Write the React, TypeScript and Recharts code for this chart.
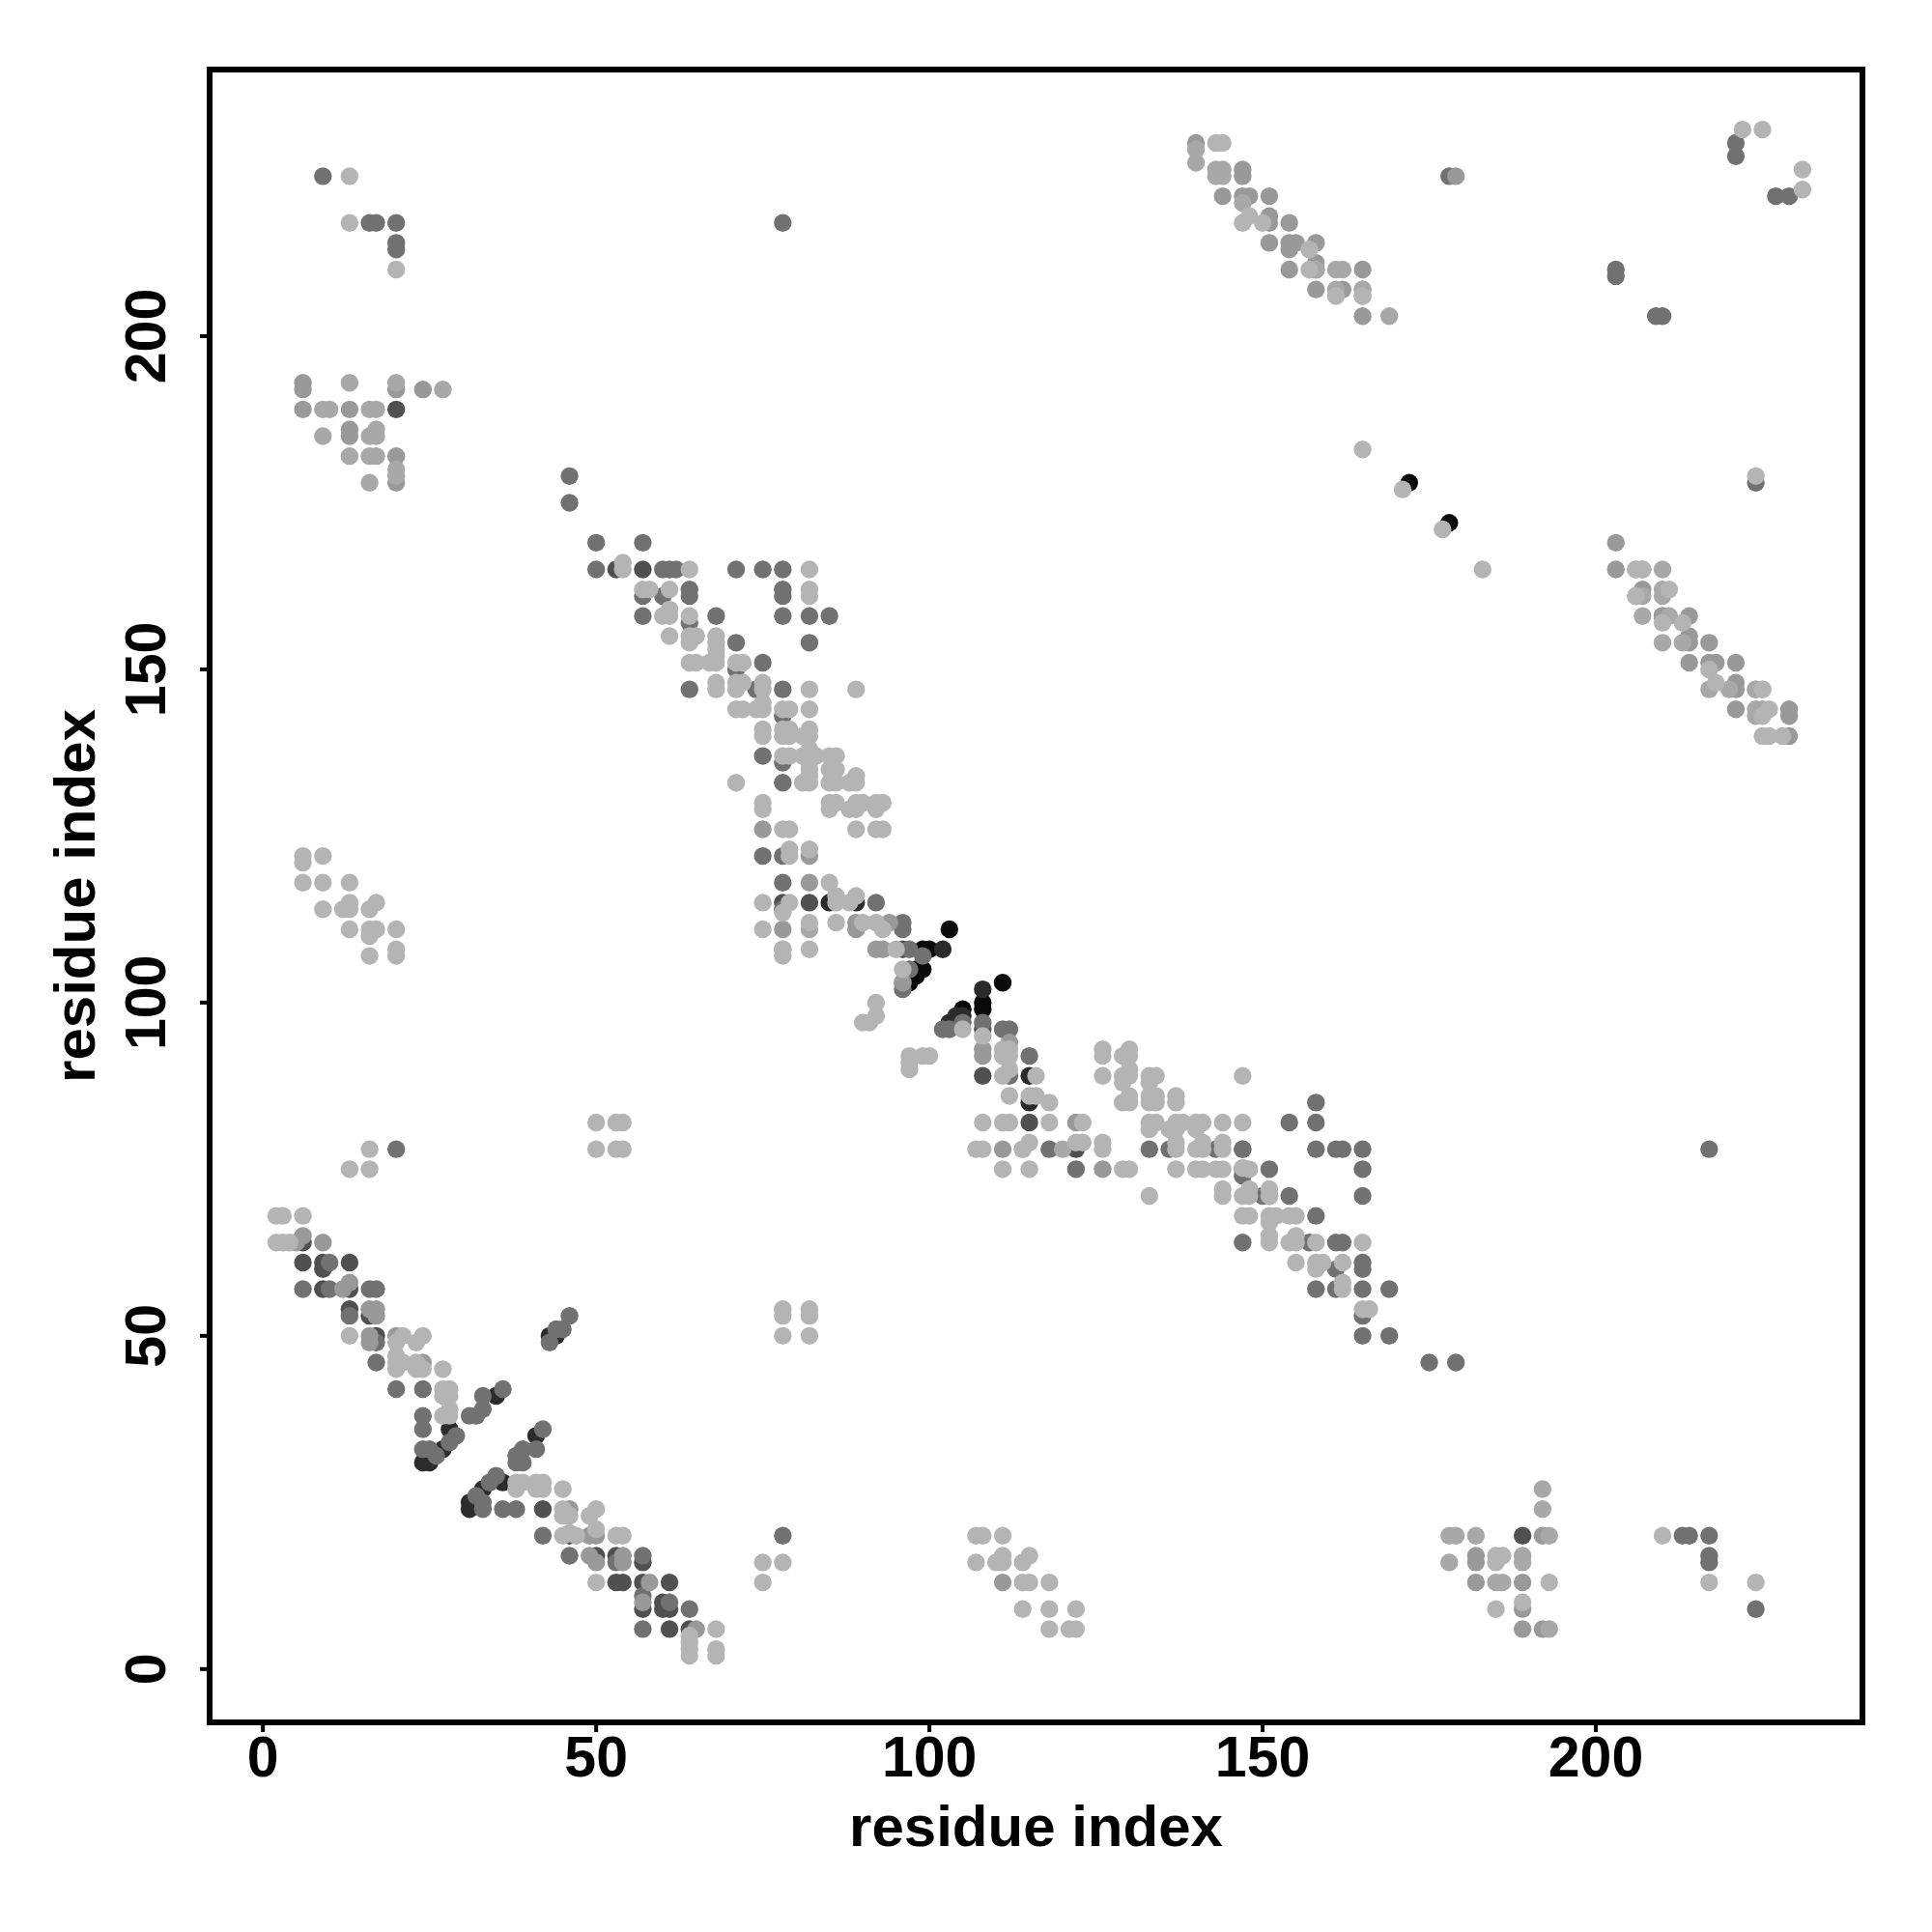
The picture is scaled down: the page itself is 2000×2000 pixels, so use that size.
import React from 'react';
import { ScatterChart, Scatter, XAxis, YAxis, ReferenceArea } from 'recharts';

type P = [number, number];

const axisTicks = [0, 50, 100, 150, 200];
const axisTitle = 'residue index';

const deepestPoints: P[] = [[103,111],[111,103],[99,108],[100,108],[98,105],[99,105],[98,104],[97,103],[108,100],[108,99],[105,99],[172,178],[178,172]];

const veryDarkPoints: P[] = [[28,36],[27,33],[24,31],[25,31],[31,24],[31,25],[33,27],[36,28],[35,41],[43,50],[44,50],[41,35],[89,115],[85,115],[102,108],[108,102],[105,98],[103,97],[115,85],[115,89],[104,98]];

const darkPoints: P[] = [[6,64],[6,61],[9,61],[9,60],[13,61],[9,57],[13,57],[13,54],[17,50],[16,53],[46,20],[42,24],[50,17],[53,17],[57,16],[54,13],[53,13],[57,13],[61,13],[57,9],[60,10],[60,9],[61,9],[61,6],[64,6],[82,115],[108,96],[115,82],[122,78],[20,189],[53,165],[57,165],[189,20],[158,210],[210,158],[108,89],[96,108],[78,115]];

const deepPoints: P[] = [[6,57],[10,61],[10,57],[13,53],[16,57],[17,57],[17,49],[17,46],[20,42],[24,42],[24,38],[24,36],[24,33],[25,33],[26,32],[29,35],[28,34],[31,38],[32,38],[33,39],[33,41],[36,42],[43,49],[44,51],[45,51],[46,53],[38,31],[39,31],[38,32],[39,33],[41,33],[42,36],[32,26],[33,24],[33,25],[34,28],[35,29],[36,24],[38,24],[42,20],[46,17],[53,16],[57,17],[57,6],[61,10],[64,9],[57,11],[78,20],
[9,224],[16,217],[17,217],[20,217],[20,214],[20,213],[78,217],[20,78],[217,78],[175,46],[179,46],[46,179],[46,175],[50,169],[57,169],[50,165],[60,165],[61,165],[62,165],[71,165],[75,165],[78,165],[57,161],[60,161],[64,162],[64,161],[78,162],[78,161],[57,158],[64,157],[68,158],[78,158],[82,158],[85,158],[71,154],[82,154],[71,150],[75,151],[64,147],[74,147],[78,147],[78,143],[75,137],[78,136],[78,133],[75,122],[78,122],[78,118],[78,114],[92,115],[96,112],[96,111],[97,108],[99,107],[97,105],[96,103],[96,102],[103,96],[102,96],[105,97],[108,97],[111,96],[112,96],[115,92],[112,89],[118,78],
[122,75],[133,78],[136,78],[143,78],[147,78],[147,74],[147,75],[150,71],[151,75],[147,64],[158,68],[158,78],[161,78],[162,78],[165,78],[165,75],[165,71],[158,82],[154,82],[158,85],[157,64],[161,64],[162,64],[165,61],[165,60],[161,60],[158,57],[161,57],[165,57],[169,57],[165,53],[165,50],[169,50],[147,78],[151,71],[154,71],[178,224],[203,210],[203,209],[209,203],[210,203],[221,229],[221,227],[227,221],[229,221],[224,178],[224,9],[213,20],[214,20],[217,20],[217,17],[217,16]];

const midPoints: P[] = [[5,64],[6,65],[9,64],[12,57],[13,58],[16,54],[17,54],[17,53],[16,50],[16,49],[20,50],[24,46],[46,24],[49,20],[50,20],[49,17],[50,16],[54,17],[54,16],[58,13],[57,10],[65,6],[75,126],[82,122],[82,118],[78,111],[89,112],[89,111],[94,112],[92,108],[93,108],[108,93],[108,92],[112,94],[96,103],[122,82],[126,75],[111,78],[111,13],
[140,229],[147,225],[147,224],[147,221],[148,221],[151,221],[144,221],[151,218],[151,217],[154,217],[151,214],[154,214],[154,213],[155,214],[158,214],[154,210],[158,211],[162,207],[165,203],[158,207],[165,210],[179,224],[207,162],[210,158],[214,158],[214,155],[214,154],[217,154],[214,151],[217,151],[218,151],[221,151],[221,148],[221,147],[221,144],[224,147],[229,143],[229,144],[229,140],[6,193],[6,192],[24,192],[20,192],[6,189],[13,186],[13,185],[13,189],[20,182],[20,178],[182,17],[182,16],[182,13],[189,13],[189,9],[192,20],[192,6],[189,6],[203,169],[203,165]];

const paleMidPoints: P[] = [[140,228],[140,226],[144,225],[144,224],[143,225],[143,224],[147,220],[165,207],[165,206],[161,210],[162,210],[165,207],[169,203],[161,207],[158,210],[210,165],[210,162],[210,161],[206,165],[207,165],[206,161],[207,161],[207,158],[211,158],[210,154],[213,154],[217,147],[220,147],[224,144],[225,144],[224,143],[224,147],[225,147],[13,193],[20,193],[27,192],[9,189],[10,189],[16,189],[17,189],[9,185],[16,185],[17,186],[17,185],[13,182],[16,182],[17,182],[16,178],[20,180],[20,179],[178,20],[179,20],[182,20],[178,16],[185,13],[186,13],[189,17],[189,16],[192,27],[192,24],[193,20],[193,6],[120,78],[114,78],[82,111],[78,108]];

const palePoints: P[] = [[2,68],[3,68],[6,68],[2,64],[3,64],[4,64],[13,50],[20,49],[21,50],[23,49],[24,50],[20,47],[20,46],[20,45],[21,46],[23,46],[23,45],[24,45],[27,45],[27,42],[28,42],[27,41],[28,41],[27,38],[28,39],[28,38],[38,27],[38,28],[39,28],[41,28],[42,28],[41,27],[42,27],[45,27],[45,24],[45,23],[46,23],[49,23],[50,24],[45,20],[46,20.4],[47,20],[50,21],[53,20],[54,20],[50,13],[68,6],[64,5],[64,4],[64,3],[64,2],[68,3],[68,2],[75,16],[75,13],[78,16],
[54,166],[54,165],[64,165],[82,165],[57,162],[58,162],[61,162],[82,162],[82,161],[60,158],[61,159],[61,158],[64,158],[61,155],[64,155],[64,154],[65,155],[68,155],[68,154],[68,153],[64,151],[65,151],[67,151],[68,151],[68,152],[71,151],[72,151],[68,148],[68,147],[71,148],[71,147],[72,148],[75,148],[75,147],[82,147],[89,147],[71,144],[72,144],[74,144],[75,145],[75,144],[78,144],[79,144],[82,144],[75,141],[75,140],[78,141],[78,140],[79,141],[79,140],[81,140],[82,141],[82,140],[78,137],[79,137],[81,137],[82,138],[82,137],[83,137],[85,137],[86,137],[82,136],[85,135],[86,135],[82,135],[71,133],[81,133],[82,134],[82,133],[85,133],[86,133],[88,133],[89,134],[89,133],[75,130],[75,129],[85,130],[85,129],[86,130],[88,129],[89,130],[89,129],[90,130],[92,130],[92,129],[93,130],[78,126],[79,126],[89,126],[92,126],[93,126],[79,123],[79,122],[82,123],[85,118],[86,116],[86,115],[89,116],[88,115],[75,115],[79,115],[78,113.5],[75,111],[82,112],[86,112],[90,112],[92,112],[93,111],[78,108],[78,107],[82,108],[95,108],[96,105],[92,100],[92,98],[91,97],[90,97],[100,92],[99,92],[97,92],[97,91],[97,90],[105,96],[108,95],[111,93],[112,93],[111,92],[112,92],[111,89],[112,90],[116,89],[112,86],[115,86],[116,86],[118,85],[108,82],[111,82],[112,82],[118,82],[107,78],[108,78],[114,78],[115,79],[111,75],[115,75],
[122,79],[123,79],[123,82],[126,93],[126,92],[126,89],[130,93],[129,92],[130,92],[129,89],[130,90],[130,89],[129,88],[129,85],[130,86],[130,85],[133,89],[134,89],[133,88],[133,86],[133,85],[134,86],[134,85],[137,86],[137,85],[133,82],[134,82],[133,81],[136,81],[137,82],[138,82],[137,81],[140,82],[141,82],[140,81],[144,82],[147,82],[147,89],[137,79],[137,78],[140,78],[141,79],[141,78],[144,79],[144,78],[126,79],[126,78],[129,75],[130,75],[137,75],[140,75],[141,75],[143,75],[144,75],[147,75.2],[148,75],[133,71],[144,72],[144,71],[147,71],[148,72],[148,71],[151,72],[151,71],[147,68],[148,68],[151,68],[152,68],[154,68],[155,68],[151,67],[151,65],[151,64],[154,64],[155,65],[155,64],[158,64],[165,64],[155,61],[158,61],[158,60],[159,61],[162,61],[162,58],[162,57],[165,54],[166,54],
[147,217],[148,218],[150,217],[157,213],[157,210],[161,206],[165,206],[143,229],[144,229],[165,183],[171,177],[177,171],[183,165],[224,179],[222,231],[225,231],[231,225],[231,222],[211,162],[210,157],[213,157],[217,150],[218,148],[225,147],[226,144],[225,143],[225,140],[226,140],[228,140],[206,165],[207,165],[206,161],
[13,224],[13,217],[20,210],[6,122],[6,121],[9,122],[6,118],[9,118],[13,118],[9,114],[12,114],[13,114],[13,115],[17,115],[16,114],[13,111],[16,111],[17,111],[20,111],[16,110],[16,107],[20,108],[20,107],[16,78],[13,75],[16,75],[50,82],[53,82],[54,82],[50,78],[53,78],[54,78],[78,54],[78,53],[82,54],[82,53],[78,50],[82,50],
[107,20],[108,20],[111,20],[107,16],[110,16],[111,16],[111,17],[114,16],[115,17],[114,13],[115,13],[114,9],[118,13],[118,9],[118,6],[121,6],[122,6],[122,9],[185,16],[186,17],[185,17],[185,9],[189,10],[193,13],[217,13],[210,20],[224,13]];

const layers: { name: string; points: P[]; fill: string }[] = [
  { name: 'deepest', points: deepestPoints, fill: '#0a0a0a' },
  { name: 'veryDark', points: veryDarkPoints, fill: '#2b2b2b' },
  { name: 'dark', points: darkPoints, fill: '#505050' },
  { name: 'deep', points: deepPoints, fill: '#717171' },
  { name: 'mid', points: midPoints, fill: '#999999' },
  { name: 'paleMid', points: paleMidPoints, fill: '#a8a8a8' },
  { name: 'pale', points: palePoints, fill: '#b4b4b4' },
];

const FONT = '"Liberation Sans", Arial, sans-serif';

const XTick = (props: any) => (
  <text x={props.x} y={props.y + 44} textAnchor="middle" fontFamily={FONT} fontWeight={700} fontSize={59} fill="#000">
    {props.payload.value}
  </text>
);

const YTick = (props: any) => (
  <text
    x={props.x - 34}
    y={props.y}
    textAnchor="middle"
    fontFamily={FONT}
    fontWeight={700}
    fontSize={59}
    fill="#000"
    transform={`rotate(-90 ${props.x - 34} ${props.y})`}
  >
    {props.payload.value}
  </text>
);

const Dot = (fill: string) => (props: any) => <circle cx={props.cx} cy={props.cy} r={9.2} fill={fill} />;

export default function App() {
  return (
    <div style={{ position: 'absolute', left: 0, top: 0, background: '#fff' }}>
      <ScatterChart width={2000} height={2000} margin={{ top: 72, right: 72, bottom: 0, left: 0 }}>
        <XAxis
          type="number"
          dataKey="x"
          domain={[-8, 240]}
          ticks={axisTicks}
          height={217}
          axisLine={false}
          tickSize={10}
          tickLine={{ stroke: '#000', strokeWidth: 4 }}
          tick={<XTick />}
          interval={0}
          label={{ value: axisTitle, position: 'insideBottom', offset: 89, fontFamily: FONT, fontWeight: 700, fontSize: 60, fill: '#000' }}
        />
        <YAxis
          type="number"
          dataKey="y"
          domain={[-8, 240]}
          ticks={axisTicks}
          width={217}
          axisLine={false}
          tickSize={10}
          tickLine={{ stroke: '#000', strokeWidth: 4 }}
          tick={<YTick />}
          interval={0}
          label={{ value: axisTitle, angle: -90, position: 'insideLeft', offset: 77, style: { textAnchor: 'middle' }, fontFamily: FONT, fontWeight: 700, fontSize: 60, fill: '#000' }}
        />
        {layers.map((l) => (
          <Scatter
            key={l.name}
            name={l.name}
            data={l.points.map(([x, y]) => ({ x, y }))}
            fill={l.fill}
            shape={Dot(l.fill)}
            isAnimationActive={false}
          />
        ))}
        <ReferenceArea x1={-8} x2={240} y1={-8} y2={240} fill="none" stroke="#000" strokeWidth={6} ifOverflow="visible" />
      </ScatterChart>
    </div>
  );
}
